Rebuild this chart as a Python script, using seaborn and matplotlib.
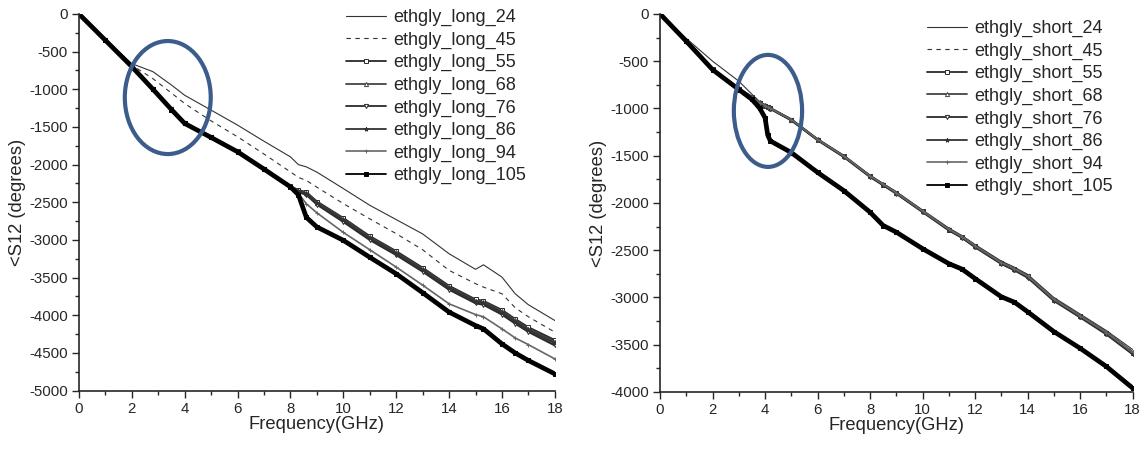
import matplotlib.pyplot as plt
import seaborn as sns
from matplotlib.patches import Ellipse
from matplotlib.ticker import MultipleLocator

sns.set_style("ticks")
plt.rcParams['font.family'] = ['Liberation Sans', 'DejaVu Sans']
plt.rcParams['axes.unicode_minus'] = False

# ---- left panel: long samples ----
freq_long = [0, 1, 2, 2.8, 3.5, 4, 5, 6, 7, 8, 8.3, 8.6, 9, 10, 11, 12, 13, 14, 15, 15.3, 16, 16.5, 17, 18]
long_24 = [0, -340, -660, -767, -944, -1080, -1277, -1476, -1690, -1897, -2000, -2030, -2100, -2318,
           -2540, -2730, -2920, -3183, -3390, -3330, -3493, -3714, -3860, -4069]
long_45 = [0, -340, -680, -860, -1050, -1190, -1420, -1631, -1860, -2097, -2170, -2210, -2300, -2518,
           -2720, -2917, -3130, -3404, -3580, -3626, -3714, -3900, -4020, -4224]
long_55 = [0, -345, -695, -995, -1265, -1445, -1635, -1825, -2055, -2285, -2340, -2365, -2490, -2710,
           -2950, -3150, -3370, -3610, -3790, -3810, -3930, -4050, -4160, -4330]
long_68 = [0, -345, -695, -995, -1265, -1445, -1635, -1825, -2055, -2290, -2350, -2375, -2505, -2725,
           -2965, -3165, -3385, -3625, -3805, -3825, -3945, -4065, -4180, -4350]
long_76 = [0, -348, -698, -998, -1268, -1450, -1638, -1828, -2058, -2295, -2365, -2400, -2530, -2760,
           -3000, -3200, -3420, -3660, -3840, -3860, -3990, -4110, -4220, -4400]
long_86 = [0, -346, -696, -996, -1266, -1448, -1636, -1826, -2056, -2292, -2355, -2385, -2515, -2740,
           -2980, -3180, -3400, -3640, -3820, -3840, -3965, -4085, -4200, -4370]
long_94 = [0, -348, -698, -998, -1268, -1450, -1638, -1828, -2058, -2294, -2380, -2520, -2640, -2900,
           -3130, -3360, -3600, -3848, -3990, -4020, -4180, -4300, -4390, -4579]
long_105 = [0, -350, -700, -1000, -1270, -1454, -1640, -1830, -2060, -2296, -2400, -2700, -2828, -3005,
            -3230, -3449, -3700, -3958, -4136, -4180, -4380, -4500, -4600, -4778]

# ---- right panel: short samples ----
freq_short = [0, 1, 2, 3, 3.5, 3.8, 4.0, 4.1, 4.2, 5, 6, 7, 8, 8.5, 9, 10, 11, 11.5, 12, 13, 13.5, 14,
              15, 16, 17, 18]
short_24 = [0, -260, -500, -712, -850, -930, -960, -975, -990, -1110, -1320, -1495, -1705, -1795, -1880,
            -2075, -2265, -2345, -2440, -2615, -2680, -2755, -3000, -3175, -3350, -3550]
short_45 = [0, -285, -580, -785, -875, -935, -965, -980, -995, -1116, -1326, -1502, -1712, -1800, -1888,
            -2081, -2274, -2350, -2449, -2625, -2690, -2765, -3011, -3186, -3361, -3572]
short_55 = [0, -288, -585, -790, -880, -940, -970, -985, -1000, -1120, -1330, -1508, -1718, -1806, -1895,
            -2088, -2282, -2360, -2458, -2635, -2700, -2778, -3022, -3198, -3375, -3585]
short_68 = [0, -286, -582, -787, -877, -937, -967, -982, -997, -1118, -1328, -1505, -1715, -1803, -1891,
            -2084, -2278, -2355, -2453, -2630, -2695, -2770, -3016, -3192, -3368, -3578]
short_76 = [0, -290, -590, -795, -885, -945, -975, -990, -1005, -1126, -1336, -1514, -1725, -1813, -1902,
            -2096, -2290, -2368, -2468, -2645, -2712, -2790, -3035, -3210, -3390, -3600]
short_86 = [0, -289, -588, -792, -882, -942, -972, -988, -1002, -1123, -1333, -1510, -1720, -1809, -1898,
            -2092, -2286, -2364, -2463, -2640, -2706, -2784, -3028, -3204, -3382, -3592]
short_94 = [0, -287, -584, -789, -879, -939, -969, -984, -999, -1119, -1329, -1506, -1716, -1804, -1893,
            -2086, -2280, -2357, -2455, -2632, -2697, -2774, -3019, -3195, -3371, -3581]
short_105 = [0, -290, -590, -800, -905, -1000, -1100, -1280, -1344, -1467, -1677, -1870, -2098, -2239,
             -2309, -2484, -2642, -2700, -2800, -2993, -3050, -3151, -3361, -3537, -3730, -3958]

sample_ids = ['24', '45', '55', '68', '76', '86', '94', '105']
long_series = [long_24, long_45, long_55, long_68, long_76, long_86, long_94, long_105]
short_series = [short_24, short_45, short_55, short_68, short_76, short_86, short_94, short_105]

# line styles per sample (Origin-like black & white)
styles = {
    '24':  dict(color='#333333', lw=0.8, ls='-', marker=None),
    '45':  dict(color='#333333', lw=0.8, ls=(0, (4, 4)), marker=None),
    '55':  dict(color='#2a2a2a', lw=1.5, ls='-', marker='s', mfc='white'),
    '68':  dict(color='#444444', lw=1.5, ls='-', marker='^', mfc='white'),
    '76':  dict(color='#2a2a2a', lw=1.5, ls='-', marker='v', mfc='white'),
    '86':  dict(color='#333333', lw=1.5, ls='-', marker='*', mfc='#333333'),
    '94':  dict(color='#666666', lw=1.2, ls='-', marker='+', mfc='#666666'),
    '105': dict(color='black', lw=3.4, ls='-', marker='s', mfc='black'),
}

# highlighted regions (centre x, centre y, width, height) in data units
ellipse_long = (3.36, -1110, 3.25, 1500)
ellipse_short = (4.11, -1026, 2.6, 1185)


def draw_panel(ax, freq, series, prefix, ymin, ellipse):
    for sid, vals in zip(sample_ids, series):
        st = styles[sid]
        kw = dict(color=st['color'], linewidth=st['lw'], linestyle=st['ls'])
        if st['marker'] is not None:
            kw.update(marker=st['marker'], markersize=3, markerfacecolor=st['mfc'],
                      markeredgecolor=st['color'], markeredgewidth=0.7)
        sns.lineplot(ax=ax, x=freq, y=vals, label=f"{prefix}_{sid}", sort=False,
                     estimator=None, **kw)

    ax.set_xlim(0, 18)
    ax.set_ylim(ymin, 0)
    ax.xaxis.set_major_locator(MultipleLocator(2))
    ax.xaxis.set_minor_locator(MultipleLocator(1))
    ax.yaxis.set_major_locator(MultipleLocator(500))
    ax.yaxis.set_minor_locator(MultipleLocator(250))
    ax.tick_params(which='major', direction='out', length=5, width=1, labelsize=10.8, pad=3)
    ax.tick_params(which='minor', direction='out', length=3, width=1)
    for s in ['top', 'right']:
        ax.spines[s].set_visible(False)
    for s in ['left', 'bottom']:
        ax.spines[s].set_linewidth(1.2)
    ax.set_xlabel("Frequency(GHz)", fontsize=13.2, labelpad=0)
    ax.set_ylabel("<S12 (degrees)", fontsize=13.2, labelpad=2)

    cx, cy, w, h = ellipse
    ax.add_patch(Ellipse((cx, cy), w, h, fill=False, edgecolor='#3c5d8c', linewidth=3, zorder=5))


fig = plt.figure(figsize=(11.44, 4.49), dpi=100)
ax1 = fig.add_axes([0.069, 0.130, 0.416, 0.839])
ax2 = fig.add_axes([0.577, 0.127, 0.413, 0.842])

draw_panel(ax1, freq_long, long_series, "ethgly_long", -5000, ellipse_long)
draw_panel(ax2, freq_short, short_series, "ethgly_short", -4000, ellipse_short)

leg_kw = dict(loc='upper left', frameon=False, fontsize=13, handlelength=2.2,
              handletextpad=0.4, labelspacing=0.3, borderpad=0, borderaxespad=0)
for ax, anchor in [(ax1, (0.562, 1.013)), (ax2, (0.565, 0.984))]:
    leg = ax.legend(bbox_to_anchor=anchor, **leg_kw)
    # legend handles are drawn thin, as in the original figure
    for line in leg.get_lines():
        line.set_linewidth(min(line.get_linewidth(), 1.3))

fig.savefig("out.png", dpi=100)
